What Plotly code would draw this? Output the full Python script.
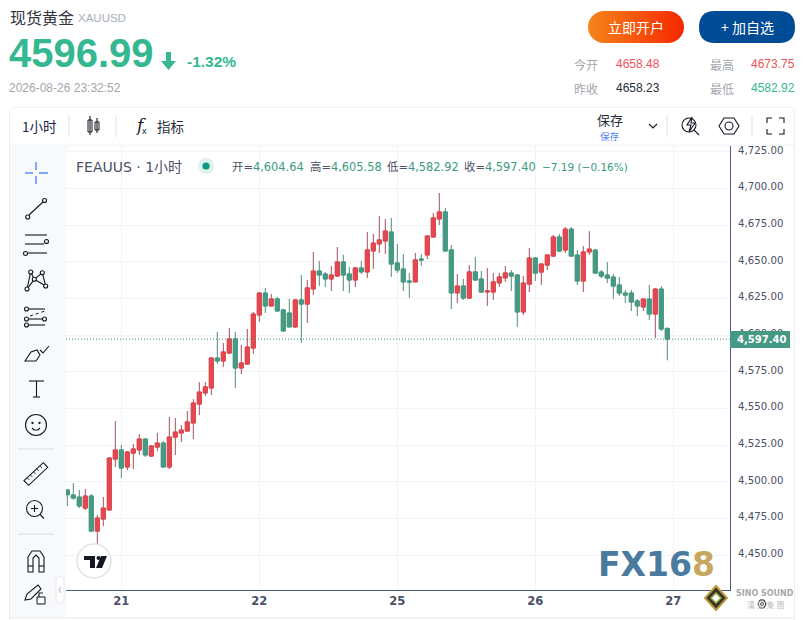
import base64

import numpy as np
import plotly.graph_objects as go

# hourly bars
bar_index = list(range(101))
open_prices = [
    4494.5, 4491.1, 4489.7, 4482.2, 4490.4, 4466.5, 4474.7, 4480.9, 4515.6, 4521.8,
    4510.2, 4519.7, 4521.8, 4529.3, 4517.7, 4523.8, 4526.5, 4510.2, 4530.6, 4533.4,
    4534.7, 4540.2, 4553.1, 4560.7, 4564.1, 4584.5, 4582.5, 4587.9, 4597.5, 4577.7,
    4580.4, 4591.3, 4613.8, 4628.8, 4620.0, 4624.8, 4617.3, 4615.2, 4605.7, 4624.1,
    4621.3, 4631.6, 4643.8, 4641.8, 4638.4, 4640.4, 4650.0, 4641.8, 4637.7, 4645.9,
    4643.2, 4657.5, 4662.3, 4664.3, 4670.4, 4649.3, 4645.2, 4637.0, 4636.4, 4652.0,
    4654.8, 4667.0, 4679.3, 4684.1, 4658.2, 4628.9, 4633.6, 4625.4, 4643.2, 4638.4,
    4629.5, 4629.5, 4635.7, 4639.1, 4642.4, 4641.1, 4615.9, 4634.9, 4652.7, 4643.1,
    4647.9, 4654.0, 4667.0, 4658.1, 4672.4, 4654.7, 4637.0, 4656.8, 4658.1, 4643.1,
    4641.1, 4639.7, 4634.3, 4628.8, 4628.8, 4623.4, 4619.3, 4624.7, 4614.5, 4631.5,
    4604.64,
]
high_prices = [
    4494.8, 4499.3, 4494.5, 4495.2, 4491.8, 4477.5, 4489.7, 4517.0, 4541.5, 4525.2,
    4521.1, 4525.9, 4532.7, 4529.5, 4525.2, 4533.4, 4527.9, 4544.3, 4543.6, 4538.8,
    4548.4, 4556.5, 4568.1, 4568.2, 4585.2, 4602.3, 4594.8, 4605.0, 4602.3, 4593.4,
    4604.3, 4615.9, 4629.5, 4632.3, 4628.2, 4626.1, 4618.0, 4624.8, 4624.8, 4641.1,
    4637.7, 4656.8, 4650.7, 4643.2, 4647.3, 4660.2, 4654.8, 4646.6, 4646.6, 4650.7,
    4670.4, 4669.1, 4681.4, 4679.3, 4680.0, 4662.3, 4655.4, 4642.5, 4656.1, 4655.4,
    4668.4, 4683.4, 4697.0, 4686.8, 4661.6, 4641.8, 4638.4, 4647.9, 4653.4, 4643.9,
    4645.9, 4642.5, 4642.5, 4647.3, 4644.5, 4641.8, 4640.4, 4659.5, 4653.4, 4648.8,
    4655.4, 4668.4, 4669.0, 4673.8, 4673.8, 4658.1, 4660.9, 4671.1, 4658.8, 4644.5,
    4649.9, 4641.8, 4639.7, 4630.9, 4630.9, 4624.7, 4625.4, 4634.3, 4632.2, 4633.6,
    4605.58,
]
low_prices = [
    4483.6, 4487.9, 4482.2, 4480.9, 4465.9, 4457.7, 4470.0, 4480.7, 4510.2, 4502.7,
    4508.1, 4508.8, 4518.4, 4517.0, 4517.0, 4521.1, 4510.0, 4508.8, 4518.4, 4527.2,
    4534.5, 4529.3, 4545.6, 4558.6, 4559.3, 4580.4, 4578.4, 4587.3, 4564.1, 4573.6,
    4579.8, 4587.3, 4609.1, 4615.2, 4619.8, 4615.9, 4602.3, 4605.5, 4605.0, 4594.8,
    4608.4, 4627.5, 4633.6, 4632.9, 4630.2, 4639.8, 4630.2, 4628.8, 4632.9, 4641.8,
    4639.1, 4645.2, 4656.1, 4655.4, 4639.8, 4642.5, 4630.2, 4625.4, 4636.2, 4647.3,
    4652.0, 4666.8, 4675.2, 4656.8, 4617.9, 4622.0, 4624.1, 4624.8, 4637.0, 4629.3,
    4620.0, 4624.1, 4633.0, 4636.4, 4630.2, 4605.6, 4613.8, 4629.5, 4637.0, 4634.3,
    4644.5, 4653.4, 4657.2, 4656.1, 4653.8, 4634.3, 4629.5, 4654.7, 4642.2, 4639.0,
    4635.6, 4624.7, 4626.8, 4622.0, 4616.5, 4613.1, 4616.5, 4610.4, 4598.1, 4602.9,
    4582.92,
]
close_prices = [
    4491.3, 4489.0, 4483.6, 4490.4, 4466.5, 4475.4, 4482.2, 4516.3, 4521.8, 4509.5,
    4520.4, 4522.5, 4529.3, 4518.4, 4524.5, 4526.5, 4510.2, 4530.6, 4534.0, 4535.4,
    4540.9, 4553.8, 4561.3, 4564.8, 4584.5, 4582.5, 4588.6, 4597.5, 4577.7, 4581.1,
    4592.0, 4614.5, 4628.8, 4620.0, 4624.8, 4616.6, 4603.0, 4605.7, 4624.1, 4621.3,
    4632.3, 4643.8, 4641.1, 4638.4, 4641.1, 4650.0, 4641.1, 4637.7, 4645.9, 4643.2,
    4658.2, 4662.9, 4665.0, 4671.1, 4648.6, 4644.5, 4636.4, 4636.4, 4651.4, 4651.4,
    4667.7, 4680.0, 4684.1, 4657.5, 4628.9, 4633.6, 4625.4, 4643.2, 4637.7, 4629.5,
    4630.2, 4636.4, 4639.8, 4642.5, 4640.4, 4615.9, 4635.6, 4652.7, 4642.4, 4648.6,
    4654.7, 4667.0, 4657.4, 4672.4, 4654.0, 4637.0, 4656.8, 4658.8, 4642.4, 4640.4,
    4639.0, 4633.6, 4628.8, 4627.4, 4622.7, 4620.0, 4624.7, 4614.5, 4631.5, 4604.3,
    4597.40,
]

price_ticks = [4450, 4475, 4500, 4525, 4550, 4575, 4600, 4625, 4650, 4675, 4700, 4725]
day_ticks = [9, 32, 55, 78, 101]
day_labels = ["21", "22", "25", "26", "27"]
last_price = 4597.40

RED = "#e4474f"
GREEN = "#469a84"
RED_WICK = "#a2505c"
GREEN_WICK = "#4f8c74"
INK = "#131722"
AXIS = "#4d5a80"
LABEL = "#4a5068"
CJK = "Noto Sans CJK SC"
SANS = "Liberation Sans, Noto Sans CJK SC"
DEJA = "DejaVu Sans, Noto Sans CJK SC"

# plot box in page pixels
LEFT, RIGHT, TOP, BOTTOM = 66, 730, 146, 590


def px(x):
    return (x - LEFT) / (RIGHT - LEFT)


def py(y):
    return (BOTTOM - y) / (BOTTOM - TOP)


shapes = []
notes = []


def rect(x0, y0, x1, y1, fill=None, line=None, width=1, layer="above"):
    shapes.append(dict(type="rect", xref="paper", yref="paper", x0=px(x0), y0=py(y0), x1=px(x1), y1=py(y1),
                       fillcolor=fill, layer=layer, line=dict(color=line, width=width if line else 0)))


def seg(x0, y0, x1, y1, color=INK, width=1.1, dash=None):
    shapes.append(dict(type="line", xref="paper", yref="paper", x0=px(x0), y0=py(y0), x1=px(x1), y1=py(y1),
                       line=dict(color=color, width=width, dash=dash)))


def circle(cx, cy, r, fill=None, line=INK, width=1.1):
    shapes.append(dict(type="circle", xref="paper", yref="paper", x0=px(cx - r), y0=py(cy - r), x1=px(cx + r), y1=py(cy + r),
                       fillcolor=fill, line=dict(color=line, width=width if line else 0)))


def poly(points, fill=None, line=INK, width=1.1, close=True):
    d = "M" + " L".join(f"{px(x):.5f},{py(y):.5f}" for x, y in points) + (" Z" if close else "")
    shapes.append(dict(type="path", xref="paper", yref="paper", path=d, fillcolor=fill,
                       line=dict(color=line, width=width if line else 0)))


def rounded(x0, y0, x1, y1, r, fill=None, line=None, width=1, layer="above"):
    d = (f"M{px(x0 + r):.5f},{py(y0):.5f} L{px(x1 - r):.5f},{py(y0):.5f} "
         f"Q{px(x1):.5f},{py(y0):.5f} {px(x1):.5f},{py(y0 + r):.5f} L{px(x1):.5f},{py(y1 - r):.5f} "
         f"Q{px(x1):.5f},{py(y1):.5f} {px(x1 - r):.5f},{py(y1):.5f} L{px(x0 + r):.5f},{py(y1):.5f} "
         f"Q{px(x0):.5f},{py(y1):.5f} {px(x0):.5f},{py(y1 - r):.5f} L{px(x0):.5f},{py(y0 + r):.5f} "
         f"Q{px(x0):.5f},{py(y0):.5f} {px(x0 + r):.5f},{py(y0):.5f} Z")
    shapes.append(dict(type="path", xref="paper", yref="paper", path=d, fillcolor=fill, layer=layer,
                       line=dict(color=line, width=width if line else 0)))


def text(x, y, s, size=12, color=INK, anchor="left", font=SANS):
    notes.append(dict(xref="paper", yref="paper", x=px(x), y=py(y), text=s, showarrow=False, xanchor=anchor,
                      yanchor="middle", font=dict(size=size, color=color, family=font), borderpad=0))


# page frame and panels, all under the plot
rounded(9.5, 107, 794.5, 640, 7, line="#eceef2", layer="below")
rect(10, 145, 66, 618, fill="#f8f9fb", layer="below")
rect(10, 144, 794, 147, fill="#f8f9fb", layer="below")
seg(10, 618, 794, 618, color="#e6e8f0", width=1)

# header
text(9, 17, "现货黄金", 16, "#33363f", font=CJK)
text(77, 18, "XAUUSD", 11.5, "#a9adb9")
text(8, 53, "<b>4596.99</b>", 40, "#35b891")
poly([(166, 52), (171, 52), (171, 61), (176, 61), (168.5, 70), (161, 61), (166, 61)], fill="#35b891", line=None)
text(186, 62, "<b>-1.32%</b>", 15.5, "#35b891")
text(8, 88, "2026-08-26 23:32:52", 12, "#a5a5ae")

# buttons
text(636, 27, "立即开户", 14, "#ffffff", anchor="center", font=CJK)
rounded(699, 11, 795, 43, 16, fill="#004b96")
text(747, 27, "+ 加自选", 14, "#ffffff", anchor="center", font=CJK)

# day stats
text(573, 64, "今开", 12, "#a5a5ae", font=CJK)
text(615, 64, "4658.48", 12, "#f0535a")
text(709, 64, "最高", 12, "#a5a5ae", font=CJK)
text(749.5, 64, "4673.75", 12, "#f0535a")
text(573, 88, "昨收", 12, "#a5a5ae", font=CJK)
text(615, 88, "4658.23", 12, "#2a2e39")
text(709, 88, "最低", 12, "#a5a5ae", font=CJK)
text(749.5, 88, "4582.92", 12, "#35b891")

# top toolbar
text(21, 126, "1小时", 13.5, "#1a1f4e", font=CJK)
seg(69, 115, 69, 137, color="#e0e3eb")
seg(116, 115, 116, 137, color="#e0e3eb")
seg(667, 115, 667, 137, color="#e0e3eb")
seg(752, 115, 752, 137, color="#e0e3eb")
rect(88, 120, 92, 132, line=INK)
seg(90, 116, 90, 135)
rect(95, 122, 99, 130, line=INK)
seg(97, 118, 97, 133)
text(134, 125, "<i>f</i>", 17, INK, font="DejaVu Serif")
text(141, 131, "x", 9, INK)
text(156, 126, "指标", 13.5, "#2a2e39", font=CJK)
text(610, 120, "保存", 13, "#2a2e39", anchor="center", font=CJK)
text(610, 136, "保存", 9.5, "#4f7dfa", anchor="center", font=CJK)
poly([(649, 124), (653, 128), (657, 124)], close=False)
circle(689, 125, 7)
seg(694, 130, 699, 135)
poly([(692, 117), (687, 125), (691, 125), (689, 132), (695, 123), (691, 123)], fill="#ffffff")
poly([(719, 126), (724, 118), (734, 118), (739, 126), (734, 134), (724, 134)])
circle(729, 126, 4)
for cx, cy, dx, dy in [(767, 118, 1, 1), (784, 118, -1, 1), (767, 134, 1, -1), (784, 134, -1, -1)]:
    poly([(cx + 5 * dx, cy), (cx, cy), (cx, cy + 5 * dy)], close=False)

# drawing tools down the left side
BLUE = "#2962ff"
seg(36, 162, 36, 170, color=BLUE)
seg(36, 176, 36, 184, color=BLUE)
seg(25, 173, 33, 173, color=BLUE)
seg(39, 173, 48, 173, color=BLUE)
seg(29, 215, 43, 202)
circle(27.7, 217, 2)
circle(44.5, 200.5, 2)
seg(25, 235, 47, 235)
seg(25, 244, 44, 244)
seg(28, 253, 47, 253)
circle(46.5, 241.5, 2)
circle(25.5, 253.5, 2)
poly([(27, 289), (30.7, 272), (34.3, 279.3), (42.3, 272.7), (45.7, 286)], close=False)
poly([(27, 289), (34.3, 279.3), (45.7, 286)], close=False)
for cx, cy in [(27, 289), (30.7, 272), (34.3, 279.3), (42.3, 272.7), (45.7, 286)]:
    circle(cx, cy, 2, fill="#f8f9fb")
seg(29, 309, 45, 309)
seg(29, 319, 42, 319)
seg(29, 325, 45, 325)
seg(30, 316, 45, 311, dash="dot", width=1)
for cx, cy in [(26.5, 309), (26.5, 319), (26.5, 325), (44.5, 319)]:
    circle(cx, cy, 2, fill="#f8f9fb")
poly([(25, 361), (31, 352), (37, 350), (40, 355), (36, 361)])
poly([(40, 350), (43, 353), (49, 346)], close=False)
seg(29, 381, 44, 381)
seg(36.5, 381, 36.5, 397)
seg(33, 397, 40, 397)
circle(36, 425, 10.5)
circle(32.5, 423, 0.6, fill=INK)
circle(39.5, 423, 0.6, fill=INK)
poly([(32, 428), (34, 430), (38, 430), (40, 428)], close=False)
seg(18, 449, 54, 449, color="#d8dbe6")
poly([(24, 480.7), (43.3, 462.7), (47.7, 467.3), (28.7, 485.3)])
for k in range(1, 6):
    seg(24 + 3.2 * k, 480.7 - 3 * k, 26 + 3.2 * k, 483 - 3 * k, width=0.8)
circle(34.5, 508.5, 8)
seg(40, 514.5, 44, 518.5)
seg(31, 508.5, 38, 508.5)
seg(34.5, 505, 34.5, 512)
seg(18, 534, 54, 534, color="#d8dbe6")
poly([(28, 572), (28, 557), (32, 551), (40, 551), (44, 557), (44, 572), (39, 572), (39, 558), (36, 555), (33, 558), (33, 572)])
seg(28, 566, 33, 566)
seg(39, 566, 44, 566)
poly([(25, 600), (27, 594), (38, 585), (41, 589), (31, 599)])
rect(37, 597, 45, 604, line=INK)
poly([(39, 597), (39, 593), (43, 593)], close=False)
rounded(56, 577, 64, 603, 3, fill="#ffffff", line="#e6e8f0")
poly([(61, 587), (59, 590), (61, 593)], line="#b5b9c6", close=False)

# chart legend line
text(75, 167, "FEAUUS · 1小时", 14, LABEL, font=DEJA)
circle(206, 166, 8, fill="#dff1ec", line=None)
circle(206, 166, 3.6, fill="#089981", line=None)
g = '<span style="color:#3b9a80">'
text(231, 167, f"开={g}4,604.64</span>", 11.4, LABEL, font=DEJA)
text(309, 167, f"高={g}4,605.58</span>", 11.4, LABEL, font=DEJA)
text(386, 167, f"低={g}4,582.92</span>", 11.4, LABEL, font=DEJA)
text(463, 167, f"收={g}4,597.40</span>", 11.4, LABEL, font=DEJA)
text(541, 167, "−7.19 (−0.16%)", 10.5, "#3b9a80", font=DEJA)

# last price tag
rect(730, 331, 790, 348, fill=GREEN)
text(761, 339.5, "<b>4,597.40</b>", 10, "#ffffff", anchor="center", font=DEJA)

# tradingview badge
circle(94, 561, 17, fill="#ffffff", line="#e0e3eb", width=1.5)
rect(84, 556, 95, 560, fill=INK)
rect(90, 556, 95, 568, fill=INK)
circle(98.5, 558, 2, fill=INK, line=None)
poly([(101, 556), (107, 556), (102, 568), (96, 568)], fill=INK, line=None)

# watermarks
text(597, 564, '<b>FX16<span style="color:#c8a860">8</span></b>', 33, "#4a7a9e", font="DejaVu Sans")
poly([(716, 586), (727, 598), (716, 610), (705, 598)], fill="#3a3520", line="#b89b40", width=2)
poly([(716, 593), (721, 598), (716, 603), (711, 598)], fill="#ffffff", line="#8fb04a", width=1.5)
text(765, 593, "<b>SINO SOUND</b>", 8, "#a8a8a8", anchor="center", font="DejaVu Sans")
text(765, 604, "漢 聲 集 團", 8, "#c0c0c0", anchor="center", font=CJK)
poly([(758, 604), (760, 600), (764, 600), (766, 604), (764, 608), (760, 608)], width=1)
circle(762, 604, 1.5, width=1)

# gradient for the orange button
button_svg = (
    '<svg xmlns="http://www.w3.org/2000/svg" width="96" height="32"><defs><linearGradient id="g">'
    '<stop offset="0" stop-color="#f6841a"/><stop offset="1" stop-color="#f52800"/></linearGradient></defs>'
    '<rect width="96" height="32" rx="16" fill="url(#g)"/></svg>'
)
button_src = "data:image/svg+xml;base64," + base64.b64encode(button_svg.encode()).decode()

o = np.array(open_prices)
c = np.array(close_prices)
body_top = np.maximum(o, c)
body_bottom = np.minimum(o, c)

fig = go.Figure()
# wicks first, then the bodies on top so the wick colour stays off the body edge
fig.add_trace(go.Candlestick(
    x=bar_index, open=open_prices, high=high_prices, low=low_prices, close=close_prices,
    increasing=dict(line=dict(color=RED_WICK, width=1), fillcolor=RED),
    decreasing=dict(line=dict(color=GREEN_WICK, width=1), fillcolor=GREEN),
    whiskerwidth=0, showlegend=False, hoverinfo="skip",
))
fig.add_trace(go.Candlestick(
    x=bar_index, open=open_prices, high=body_top, low=body_bottom, close=close_prices,
    increasing=dict(line=dict(color=RED, width=1), fillcolor=RED),
    decreasing=dict(line=dict(color=GREEN, width=1), fillcolor=GREEN),
    whiskerwidth=0, showlegend=False, hoverinfo="skip",
))

shapes.insert(0, dict(type="line", xref="paper", yref="y", x0=0, x1=1, y0=last_price, y1=last_price,
                      line=dict(color="#3f8f7a", width=1, dash="1px,2px")))

fig.update_layout(
    width=803, height=620, autosize=False,
    margin=dict(l=LEFT, r=803 - RIGHT, t=TOP, b=620 - BOTTOM),
    paper_bgcolor="#ffffff", plot_bgcolor="rgba(0,0,0,0)",
    showlegend=False, boxgap=0.0, boxgroupgap=0.33,
    shapes=shapes, annotations=notes,
    images=[dict(source=button_src, xref="paper", yref="paper", x=px(588), y=py(11), sizex=px(684) - px(588),
                 sizey=py(11) - py(43), xanchor="left", yanchor="top", sizing="stretch", layer="above")],
    xaxis=dict(
        range=[-0.22, 110.45], rangeslider=dict(visible=False), tickmode="array",
        tickvals=day_ticks, ticktext=day_labels, showgrid=True, gridcolor="#f2f3f6", gridwidth=1,
        showline=True, linecolor=AXIS, linewidth=1, ticks="", zeroline=False,
        tickfont=dict(family="DejaVu Sans", size=11.5, color=LABEL, weight=600),
    ),
    yaxis=dict(
        range=[4426.34, 4729.06], side="right", tickmode="array", tickvals=price_ticks,
        ticktext=[f"{p:,.2f}" for p in price_ticks], showgrid=True, gridcolor="#f2f3f6", gridwidth=1,
        showline=True, linecolor=AXIS, linewidth=1, ticks="", zeroline=False,
        ticklabelstandoff=5, ticklabelshift=-2,
        tickfont=dict(family="DejaVu Sans", size=10.2, color=LABEL),
    ),
)

fig.write_html("out.html", config=dict(displayModeBar=False),
               post_script="document.body.style.margin='0';document.body.style.overflow='hidden';")
